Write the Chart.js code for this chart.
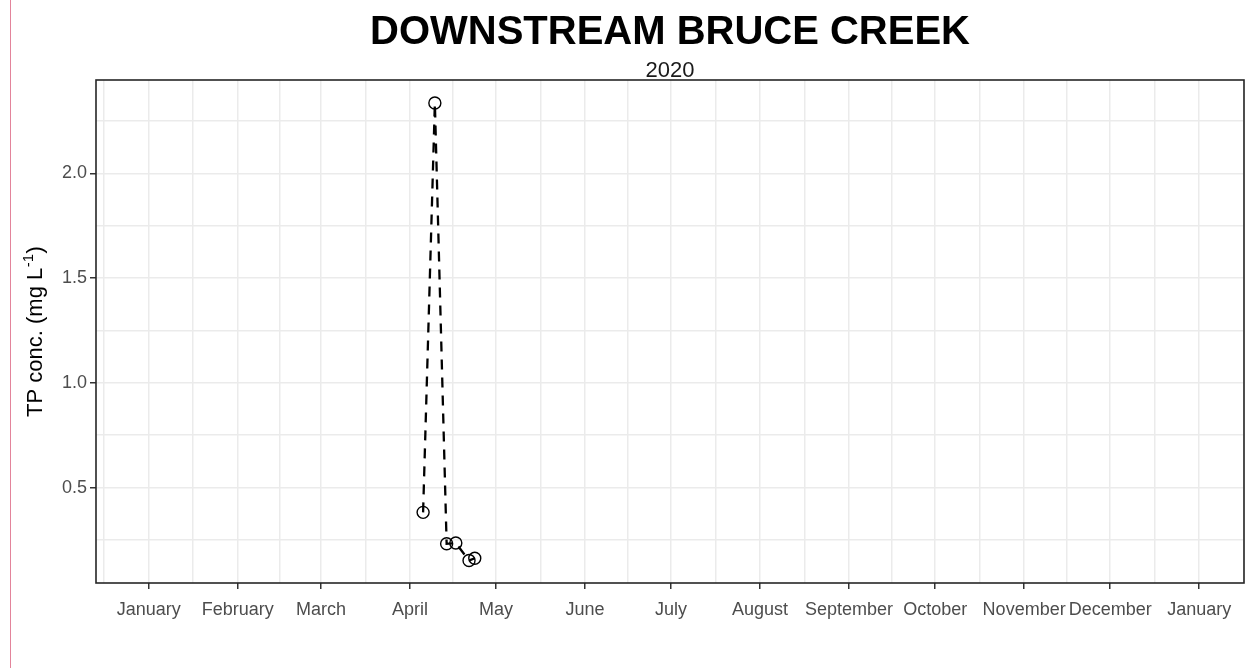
<!DOCTYPE html>
<html>
<head>
<meta charset="utf-8">
<script src="https://cdn.jsdelivr.net/npm/chart.js@4.4.1/dist/chart.umd.min.js"></script>
<style>
  html, body { margin: 0; padding: 0; background: #ffffff; }
  #wrap { position: relative; width: 1254px; height: 668px; }
  canvas { display: block; }
</style>
</head>
<body>
<div id="wrap"><canvas id="c" width="1254" height="668"></canvas></div>
<script>
// ---------- data ----------
const chartTitle = 'DOWNSTREAM BRUCE CREEK';
const chartSubtitle = '2020';
const yTitleMain = 'TP conc. (mg L';
const yTitleSup = '-1';
const yTitleEnd = ')';

// month tick labels and their day offsets from 1 Jan 2020
const monthLabels = ['January', 'February', 'March', 'April', 'May', 'June', 'July',
                     'August', 'September', 'October', 'November', 'December', 'January'];
const monthStartDays = [0, 31, 60, 91, 121, 152, 182, 213, 244, 274, 305, 335, 366];
const monthBoundsOutside = [-31, 397]; // 1 Dec 2019, 1 Feb 2021 (for minor grid)

// sample dates (day of year 2020, 0 = 1 Jan) and TP concentrations (mg/L)
const sampleDays = [95.6, 99.7, 103.8, 107.0, 111.6, 113.6];
const tpConc     = [0.382, 2.335, 0.232, 0.236, 0.152, 0.163];

const yMajorTicks = [0.5, 1.0, 1.5, 2.0];
const yMinorTicks = [0.25, 0.75, 1.25, 1.75, 2.25];

const xRange = [-18.36, 381.6];
const yRange = [0.045, 2.445];

// ---------- helpers ----------
const FONT = "'Liberation Sans', Arial, sans-serif";
const allBounds = [monthBoundsOutside[0], ...monthStartDays, monthBoundsOutside[1]];
const xMinorTicks = [];
for (let i = 0; i < allBounds.length - 1; i++) {
  const m = (allBounds[i] + allBounds[i + 1]) / 2;
  if (m > xRange[0] && m < xRange[1]) xMinorTicks.push(m);
}

function buildTicks(major, minor) {
  const t = major.map(v => ({ value: v, minor: false }))
    .concat(minor.map(v => ({ value: v, minor: true })));
  t.sort((a, b) => a.value - b.value);
  return t;
}

const GRID = '#EBEBEB';
const DARK = '#333333';

const decorPlugin = {
  id: 'decor',
  beforeDraw(chart) {
    const ctx = chart.ctx;
    ctx.save();
    ctx.fillStyle = '#ffffff';
    ctx.fillRect(0, 0, chart.width, chart.height);
    ctx.strokeStyle = '#E3849B';
    ctx.lineWidth = 1;
    ctx.beginPath();
    ctx.moveTo(10.5, 0);
    ctx.lineTo(10.5, chart.height);
    ctx.stroke();
    ctx.restore();
  },
  afterDatasetsDraw(chart) {
    const ctx = chart.ctx;
    const a = chart.chartArea;
    ctx.save();
    ctx.strokeStyle = '#262626';
    ctx.lineWidth = 1.6;
    ctx.strokeRect(a.left, a.top, a.right - a.left, a.bottom - a.top);
    ctx.restore();
  },
  afterDraw(chart) {
    const ctx = chart.ctx;
    const a = chart.chartArea;
    const cx = (a.left + a.right) / 2;
    ctx.save();
    ctx.textAlign = 'center';
    ctx.textBaseline = 'alphabetic';
    ctx.fillStyle = '#000000';
    ctx.font = 'bold 40px ' + FONT;
    ctx.fillText(chartTitle, cx, 43.5);
    ctx.font = '22px ' + FONT;
    ctx.fillStyle = '#1A1A1A';
    ctx.fillText(chartSubtitle, cx, 76.8);

    // y axis title with superscript
    const cy = (a.top + a.bottom) / 2;
    ctx.translate(41.5, cy);
    ctx.rotate(-Math.PI / 2);
    ctx.textAlign = 'left';
    ctx.fillStyle = '#000000';
    const mainFont = '22px ' + FONT;
    const supFont = '15px ' + FONT;
    ctx.font = mainFont;
    const w1 = ctx.measureText(yTitleMain).width;
    const w3 = ctx.measureText(yTitleEnd).width;
    ctx.font = supFont;
    const w2 = ctx.measureText(yTitleSup).width;
    const total = w1 + w2 + w3 + 1;
    let x = -total / 2;
    ctx.font = mainFont;
    ctx.fillText(yTitleMain, x, 0);
    x += w1 + 0.5;
    ctx.font = supFont;
    ctx.fillText(yTitleSup, x, -9);
    x += w2 + 0.5;
    ctx.font = mainFont;
    ctx.fillText(yTitleEnd, x, 0);
    ctx.restore();
  }
};

const points = sampleDays.map((d, i) => ({ x: d, y: tpConc[i] }));

new Chart(document.getElementById('c'), {
  type: 'scatter',
  data: {
    datasets: [{
      data: points,
      showLine: true,
      borderColor: '#000000',
      borderWidth: 2.3,
      borderDash: [10, 8],
      tension: 0,
      pointRadius: 6,
      pointHoverRadius: 6,
      pointBorderWidth: 1.4,
      pointBorderColor: '#000000',
      pointBackgroundColor: 'rgba(0,0,0,0)'
    }]
  },
  options: {
    responsive: false,
    devicePixelRatio: 1,
    animation: false,
    layout: { padding: { left: 0, right: 10, top: 80, bottom: 0 } },
    plugins: {
      legend: { display: false },
      tooltip: { enabled: false },
      title: { display: false }
    },
    scales: {
      x: {
        type: 'linear',
        min: xRange[0],
        max: xRange[1],
        afterBuildTicks(scale) { scale.ticks = buildTicks(monthStartDays, xMinorTicks); },
        afterFit(scale) { scale.height = 85; },
        border: { display: false },
        grid: {
          color: GRID,
          lineWidth: 1.5,
          tickLength: 6,
          tickWidth: 1.5,
          tickColor: (c) => (c.tick && c.tick.minor) ? 'rgba(0,0,0,0)' : DARK
        },
        ticks: {
          autoSkip: false,
          maxRotation: 0,
          minRotation: 0,
          padding: 10,
          color: '#4D4D4D',
          font: { family: FONT, size: 18 },
          callback: (v, i, ticks) => ticks[i].minor ? '' : monthLabels[monthStartDays.indexOf(v)]
        }
      },
      y: {
        type: 'linear',
        min: yRange[0],
        max: yRange[1],
        afterBuildTicks(scale) { scale.ticks = buildTicks(yMajorTicks, yMinorTicks); },
        afterFit(scale) { scale.width = 96; },
        border: { display: false },
        grid: {
          color: GRID,
          lineWidth: 1.5,
          tickLength: 6,
          tickWidth: 1.5,
          tickColor: (c) => (c.tick && c.tick.minor) ? 'rgba(0,0,0,0)' : DARK
        },
        ticks: {
          padding: 3,
          color: '#4D4D4D',
          font: { family: FONT, size: 18 },
          callback: (v, i, ticks) => ticks[i].minor ? '' : Number(v).toFixed(1)
        }
      }
    }
  },
  plugins: [decorPlugin]
});
</script>
</body>
</html>
